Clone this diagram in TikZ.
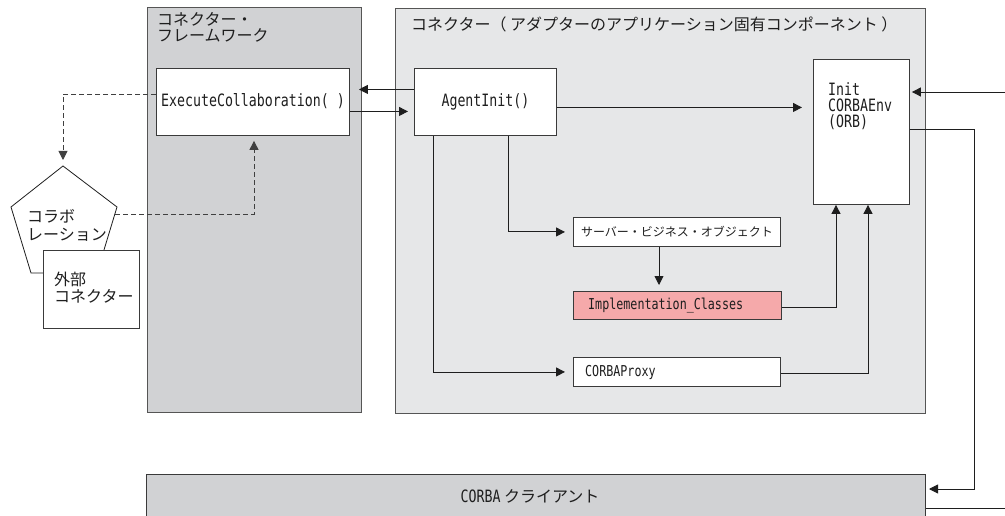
\documentclass[tikz,border=0pt]{standalone}
\usepackage{fontspec}
\setmainfont{Noto Sans CJK JP}
\newfontfamily\jpfont{Noto Sans CJK JP}
\newfontfamily\monofont[FakeStretch=0.78]{DejaVu Sans Mono}
\usetikzlibrary{arrows.meta}

\definecolor{fwgray}{HTML}{D1D2D4}
\definecolor{cngray}{HTML}{E6E7E8}
\definecolor{implpink}{HTML}{F5A9AA}
\definecolor{edgegray}{HTML}{555555}
\definecolor{boxedge}{HTML}{3A3A3A}
\definecolor{inkc}{HTML}{1E1E1E}

\tikzset{
  container/.style={draw=edgegray, line width=1.3pt, inner sep=0pt, anchor=north west},
  box/.style={draw=boxedge, line width=0.9pt, fill=white, inner sep=0pt, anchor=north west},
  jpbig/.style={font=\jpfont\fontsize{16pt}{16pt}\selectfont, text=inkc},
  jpsmall/.style={font=\jpfont\fontsize{12pt}{12pt}\selectfont, text=inkc},
  monobig/.style={font=\monofont\fontsize{17pt}{17pt}\selectfont, text=inkc},
  monosmall/.style={font=\monofont\fontsize{15pt}{15pt}\selectfont, text=inkc},
  label/.style={inner sep=0pt},
  link/.style={draw=inkc, line width=0.9pt},
  arr/.style={link, -{Triangle[length=9pt,width=9pt]}},
  dashlink/.style={draw=inkc!85, line width=0.9pt, dash pattern=on 5pt off 3pt},
  dasharr/.style={dashlink, -{Triangle[length=9pt,width=9pt]}},
}

\begin{document}
\begin{tikzpicture}[x=1pt, y=-1pt]
  \clip (0,0) rectangle (1005,516);
  \fill[white] (0,0) rectangle (1005,516);

  % containers
  \node[container, fill=fwgray, minimum width=214pt, minimum height=405pt] (fw) at (147,7) {};
  \node[container, fill=cngray, minimum width=530pt, minimum height=405pt] (cn) at (395,8) {};
  \node[label, jpbig, anchor=north west, align=left] (fwT) at (157,12)
    {コネクター・\\フレームワーク};
  \node[label, jpbig, anchor=west] (cnT) at (411,24)
    {コネクター（ アダプターのアプリケーション固有コンポーネント ）};

  % framework method
  \node[box, monobig, minimum width=193pt, minimum height=67pt] (ec) at (156,68)
    {\raisebox{3pt}{ExecuteCollaboration( )}};

  % connector components
  \node[box, monobig, minimum width=142pt, minimum height=67pt] (ai) at (414,68)
    {\raisebox{3pt}{AgentInit()}};
  \node[box, minimum width=96pt, minimum height=145pt] (orb) at (813,59) {};
  \node[label, monobig, anchor=north west, align=left] (orbT) at (828,82)
    {Init\\[-1pt]CORBAEnv\\[-1pt](ORB)};
  \node[box, jpsmall, minimum width=207pt, minimum height=29pt] (sbo) at (573,217)
    {サーバー・ビジネス・オブジェクト};
  \node[box, fill=implpink, minimum width=208pt, minimum height=28pt] (impl) at (573,291) {};
  \node[label, monosmall, anchor=west] (implT) at (588,306) {Implementation\_Classes};
  \node[box, minimum width=207pt, minimum height=29pt] (prx) at (573,357) {};
  \node[label, monosmall, anchor=west] (prxT) at (585,372) {CORBAProxy};

  % CORBA client
  \node[container, draw=boxedge, line width=1pt, fill=fwgray, minimum width=779pt, minimum height=50pt] (cc) at (146,474) {};
  \node[label, jpbig] (ccT) at (530,496)
    {{\monofont\fontsize{17pt}{17pt}\selectfont CORBA} クライアント};

  % collaboration and external connector
  \coordinate (colTop) at (63,166);
  \coordinate (colR)   at (117,207);
  \coordinate (colBR)  at (97,273);
  \coordinate (colBL)  at (31,273);
  \coordinate (colL)   at (11,207);
  \draw[draw=inkc, line width=0.8pt, fill=white] (colTop) -- (colR) -- (colBR) -- (colBL) -- (colL) -- cycle;
  \node[label, jpbig, anchor=west, align=left] (colT) at (27,225)
    {コラボ\\[2pt]レーション};
  \node[box, line width=0.8pt, minimum width=96pt, minimum height=78pt] (ext) at (43,250) {};
  \node[label, jpbig, anchor=west, align=left] (extT) at (54,288)
    {外部\\[1pt]コネクター};

  % dashed collaboration flow
  \coordinate (colIn) at (115,214);
  \draw[dasharr, shorten >=6pt] ([yshift=7.5pt]ec.west) -| (colTop);
  \draw[dasharr, shorten >=5pt] (colIn) -| ([xshift=98pt]ec.south west);

  % calls between framework and agent
  \draw[arr, shorten >=9pt] ([yshift=12.5pt]ai.west) -- ([yshift=12.5pt]ai.west -| ec.east);
  \draw[arr, shorten >=6pt] ([yshift=-9.5pt]ec.east) -- ([yshift=-9.5pt]ec.east -| ai.west);

  % agent initialisation flow
  \draw[arr, shorten >=11pt] ([yshift=-5.5pt]ai.east) -- ([yshift=-5.5pt]ai.east -| orb.west);
  \draw[arr, shorten >=8pt] ([xshift=94pt]ai.south west) |- (sbo.west);
  \draw[arr, shorten >=8pt] ([xshift=19pt]ai.south west) |- (prx.west);
  \draw[arr, shorten >=6pt] ([xshift=86pt]sbo.south west) -- ([xshift=86pt]impl.north west);
  \draw[arr] ([yshift=-1.5pt]impl.east) -| ([xshift=23pt]orb.south west);
  \draw[arr] ([yshift=-1.5pt]prx.east) -| ([xshift=55pt]orb.south west);

  % ORB and CORBA client wiring
  \coordinate (inR)   at (1005,92);
  \coordinate (down)  at (974,489);
  \coordinate (outR)  at (1005,508);
  \draw[arr, shorten >=2pt] (inR) -- (inR -| orb.east);
  \draw[arr, shorten >=3pt] ([yshift=2.5pt]orb.east) -| (down) -- (down -| cc.east);
  \draw[link] (outR -| cc.east) -- (outR);
\end{tikzpicture}
\end{document}
